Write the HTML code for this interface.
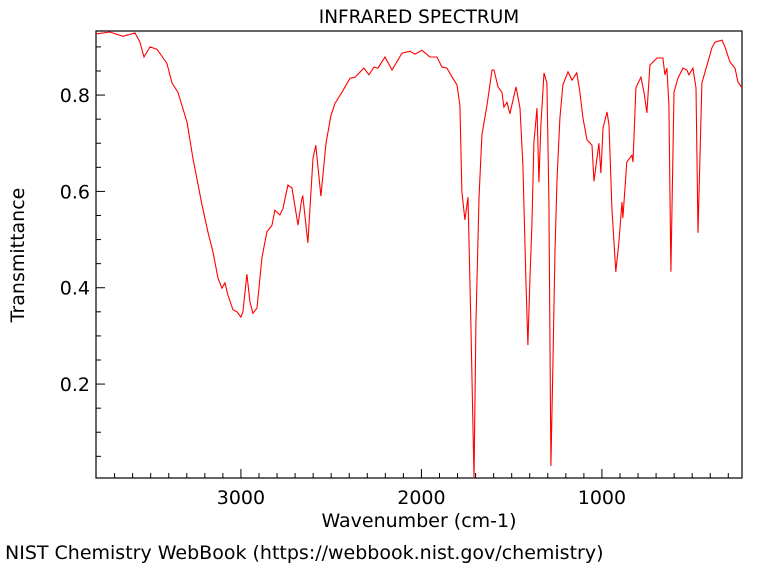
<!DOCTYPE html>
<html><head><meta charset="utf-8"><style>
body{margin:0;background:#fff;}
svg text{font-family:"DejaVu Sans","Liberation Sans",sans-serif;fill:#000;}
</style></head><body>
<svg id="chart" width="773" height="565" viewBox="0 0 773 565" xmlns="http://www.w3.org/2000/svg">
<text x="419" y="23" font-size="18.5" text-anchor="middle">INFRARED SPECTRUM</text>
<rect x="96" y="31" width="646" height="447" fill="none" stroke="#000" stroke-width="1.2"/>
<g id="ticks"></g>
<path id="spectrum" fill="none" stroke="#ff0000" stroke-width="1.1"/>
<text transform="translate(24,255) rotate(-90)" font-size="19" text-anchor="middle">Transmittance</text>
<text x="419" y="527" font-size="19" text-anchor="middle">Wavenumber (cm-1)</text>
<text x="5" y="559" font-size="19">NIST Chemistry WebBook (https://webbook.nist.gov/chemistry)</text>
</svg>
<script>
const wavenumbers=[3803,3726,3654,3587,3560,3537,3504,3465,3410,3382,3349,3299,3266,3216,3183,3155,3127,3105,3089,3072,3044,3022,3000,2989,2967,2950,2934,2911,2884,2856,2828,2812,2784,2767,2740,2717,2684,2662,2657,2629,2601,2585,2557,2529,2501,2479,2440,2396,2368,2319,2291,2263,2241,2202,2163,2136,2108,2064,2036,1997,1953,1914,1886,1859,1826,1803,1787,1776,1759,1742,1726,1709,1698,1681,1665,1637,1609,1598,1576,1554,1543,1526,1510,1476,1454,1438,1421,1410,1399,1388,1377,1360,1349,1338,1321,1305,1294,1283,1271,1260,1249,1233,1216,1188,1166,1139,1122,1105,1083,1055,1044,1017,1006,994,972,961,945,923,906,889,884,862,834,828,812,784,767,751,734,695,662,651,640,629,618,601,579,551,529,518,496,479,468,446,418,391,374,335,318,291,263,246,224];
const transmittance=[0.927,0.931,0.922,0.929,0.910,0.879,0.900,0.895,0.866,0.825,0.806,0.744,0.669,0.572,0.516,0.474,0.420,0.399,0.410,0.385,0.354,0.350,0.339,0.350,0.428,0.370,0.347,0.358,0.462,0.516,0.530,0.561,0.551,0.565,0.613,0.607,0.530,0.586,0.590,0.493,0.669,0.696,0.590,0.700,0.758,0.783,0.806,0.835,0.837,0.856,0.842,0.858,0.856,0.879,0.852,0.869,0.887,0.891,0.885,0.893,0.879,0.879,0.858,0.856,0.835,0.821,0.779,0.599,0.541,0.588,0.323,0.005,0.323,0.586,0.717,0.779,0.852,0.852,0.817,0.806,0.775,0.785,0.761,0.817,0.773,0.655,0.416,0.281,0.416,0.530,0.702,0.773,0.619,0.738,0.846,0.825,0.582,0.030,0.250,0.478,0.624,0.752,0.821,0.848,0.831,0.846,0.806,0.752,0.707,0.696,0.621,0.700,0.638,0.731,0.765,0.738,0.565,0.433,0.495,0.578,0.545,0.661,0.675,0.661,0.815,0.837,0.806,0.763,0.862,0.877,0.877,0.842,0.856,0.779,0.433,0.806,0.835,0.856,0.852,0.842,0.856,0.815,0.514,0.825,0.862,0.898,0.910,0.914,0.900,0.869,0.856,0.827,0.815];
const xTickLabels=[3000,2000,1000];
const yTickLabels=[0.2,0.4,0.6,0.8];

const X0=96,X1=742,Y0=31,Y1=478,W0=3803,W1=224,T0=0.933,T1=0.005;
function xs(w){return X0+(W0-w)/(W0-W1)*(X1-X0);}
function ys(t){return Y1-(t-T1)/(T0-T1)*(Y1-Y0);}
const NS='http://www.w3.org/2000/svg';
const g=document.getElementById('ticks');
function line(x1,y1,x2,y2){const l=document.createElementNS(NS,'line');l.setAttribute('x1',x1);l.setAttribute('y1',y1);l.setAttribute('x2',x2);l.setAttribute('y2',y2);l.setAttribute('stroke','#000');l.setAttribute('stroke-width','1');g.appendChild(l);return l;}
function txt(x,y,s,anchor){const t=document.createElementNS(NS,'text');t.setAttribute('x',x);t.setAttribute('y',y);t.setAttribute('font-size','19');t.setAttribute('text-anchor',anchor);t.textContent=s;g.appendChild(t);return t;}
for(let w=300;w<=3700;w+=100){
  const major=w%1000===0;const x=xs(w);
  const l=line(x,Y1,x,Y1-(major?9:5));
  
  
}
xTickLabels.forEach(v=>{const t=txt(xs(v),504,String(v),'middle');
  
  });
for(let i=1;i<=18;i++){
  const v=i*0.05;const major=i%4===0;const y=ys(v);
  const l=line(X0,y,X0+(major?9:5),y);
  
  
}
yTickLabels.forEach(v=>{const t=txt(90,ys(v)+7,v.toFixed(1),'end');
  
  });
let d='';
wavenumbers.forEach((w,i)=>{d+=(i?'L':'M')+xs(w).toFixed(1)+','+ys(transmittance[i]).toFixed(1);});
document.getElementById('spectrum').setAttribute('d',d);
</script>
</body></html>
